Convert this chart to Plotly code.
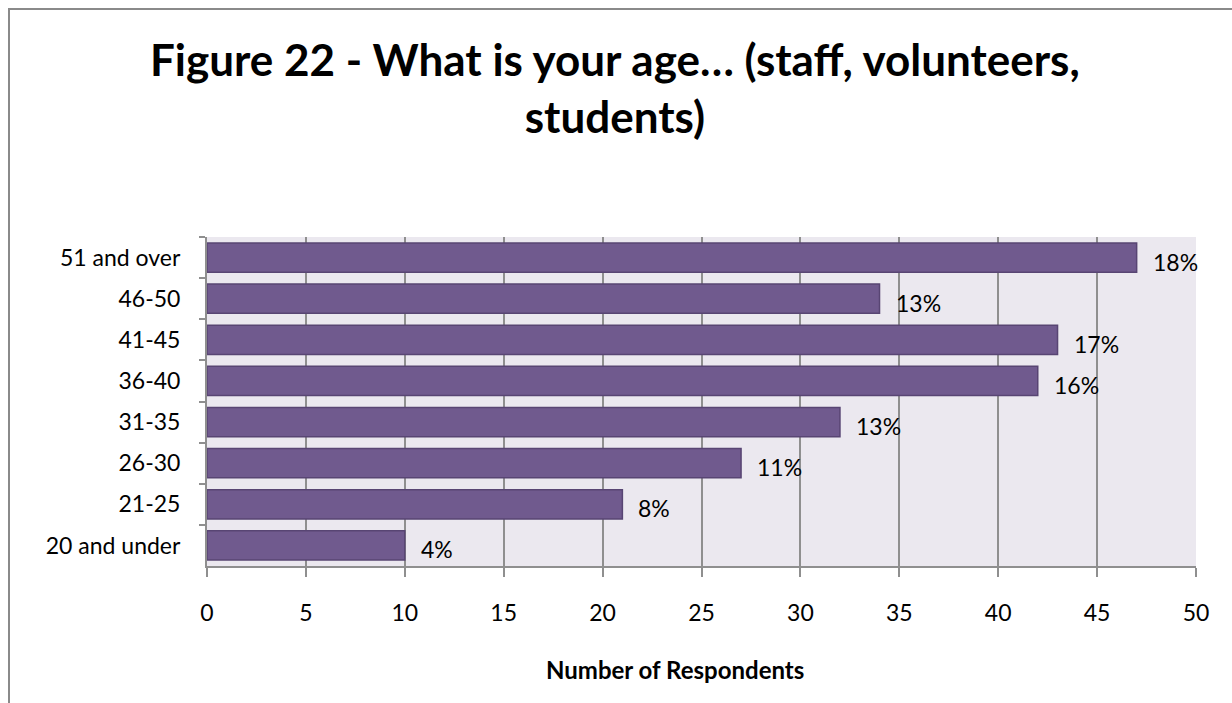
import plotly.graph_objects as go

# Age bands, listed top to bottom as drawn
age_bands = ["51 and over", "46-50", "41-45", "36-40", "31-35", "26-30", "21-25", "20 and under"]
respondents = [47, 34, 43, 42, 32, 27, 21, 10]
share_labels = ["18%", "13%", "17%", "16%", "13%", "11%", "8%", "4%"]
x_ticks = [0, 5, 10, 15, 20, 25, 30, 35, 40, 45, 50]

W, H = 1232, 703
L, R, T, B = 207, 36, 237, 137
pw, ph = W - L - R, H - T - B


def px_to_paper_x(px):
    return (px - L) / pw


def px_to_paper_y(py):
    return (H - B - py) / ph


FONT = "Lato, 'Open Sans', sans-serif"
GRID = "#8f8f8f"
TICK_SIZE = 23

fig = go.Figure()
fig.add_trace(go.Bar(
    x=respondents,
    y=age_bands,
    orientation="h",
    marker=dict(color="#705a8e", line=dict(color="#584573", width=1.5)),
    width=0.71,
    hoverinfo="x+y",
))

# Percentage labels just past each bar end
for band, val, lab in zip(age_bands, respondents, share_labels):
    fig.add_annotation(
        x=val, y=band, text=lab, showarrow=False,
        xanchor="left", yanchor="middle", xshift=14, yshift=-4,
        font=dict(family=FONT, size=TICK_SIZE, color="#000000"),
    )

# Chart title
fig.add_annotation(
    x=px_to_paper_x(615), y=px_to_paper_y(87), xref="paper", yref="paper",
    text="<b>Figure 22 - What is your age… (staff, volunteers,<br>students)</b>",
    showarrow=False, xanchor="center", yanchor="middle",
    font=dict(family=FONT, size=44, color="#000000"),
)

# Axis title
fig.add_annotation(
    x=px_to_paper_x(675), y=px_to_paper_y(669), xref="paper", yref="paper",
    text="<b>Number of Respondents</b>", showarrow=False,
    xanchor="center", yanchor="middle",
    font=dict(family=FONT, size=24, color="#000000"),
)

# Outer chart frame
fig.add_shape(
    type="rect", xref="paper", yref="paper",
    x0=px_to_paper_x(9), x1=px_to_paper_x(W + 20),
    y0=px_to_paper_y(H + 20), y1=px_to_paper_y(9),
    line=dict(color="#8a8a8a", width=2), fillcolor="rgba(0,0,0,0)", layer="below",
)

fig.update_layout(
    width=W, height=H,
    margin=dict(l=L, r=R, t=T, b=B, pad=0),
    paper_bgcolor="#ffffff",
    plot_bgcolor="#ebe8ef",
    showlegend=False,
    font=dict(family=FONT, size=TICK_SIZE, color="#000000"),
    xaxis=dict(
        range=[0, 50], tickvals=x_ticks, ticktext=[str(v) for v in x_ticks],
        showgrid=True, gridcolor=GRID, gridwidth=1.5,
        showline=True, linecolor=GRID, linewidth=2,
        ticks="outside", ticklen=9, tickcolor=GRID, tickwidth=1.5,
        ticklabelstandoff=16, zeroline=False,
        tickfont=dict(family=FONT, size=TICK_SIZE, color="#000000"),
    ),
    yaxis=dict(
        autorange="reversed", type="category",
        showgrid=False, showline=True, linecolor=GRID, linewidth=2,
        ticks="outside", ticklen=6, tickcolor=GRID, tickwidth=1.5,
        tickson="boundaries", ticklabelstandoff=20,
        tickfont=dict(family=FONT, size=TICK_SIZE, color="#000000"),
    ),
)

fig.write_html("out.html")
